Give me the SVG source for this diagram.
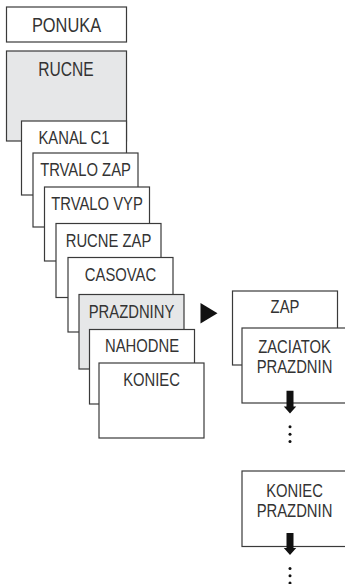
<svg xmlns="http://www.w3.org/2000/svg" width="345" height="584" viewBox="0 0 345 584">
<style>
.box{fill:#fff;stroke:#3a3a3a;stroke-width:1.2}
.gray{fill:#e6e7e8}
.t{font-family:"Liberation Sans",Arial,sans-serif;font-size:18.5px;fill:#333;text-anchor:middle}
.ar{fill:#111}
</style>
<rect width="345" height="584" fill="#fff"/>
<g id="ponuka"><rect class="box" x="6.5" y="7" width="120" height="35"/><text class="t" transform="translate(66.5,32.3) scale(0.8,1)" style="font-size:20.5px">PONUKA</text></g>
<g id="rucne"><rect class="box gray" x="6.5" y="51" width="120" height="90"/><text class="t" transform="translate(66,76) scale(0.8,1)" style="font-size:19.5px">RUCNE</text></g>
<g id="kanal"><rect class="box" x="21.5" y="121" width="105" height="74"/><text class="t" transform="translate(74,144) scale(0.8,1)">KANAL C1</text></g>
<g id="trvalozap"><rect class="box" x="33" y="153" width="105" height="74"/><text class="t" transform="translate(85.5,176) scale(0.8,1)">TRVALO ZAP</text></g>
<g id="trvalovyp"><rect class="box" x="44.5" y="187" width="105" height="74"/><text class="t" transform="translate(97,210) scale(0.8,1)">TRVALO VYP</text></g>
<g id="rucnezap"><rect class="box" x="56" y="223.5" width="105" height="74"/><text class="t" transform="translate(108.5,246.5) scale(0.8,1)">RUCNE ZAP</text></g>
<g id="casovac"><rect class="box" x="68" y="257.5" width="105" height="74.5"/><text class="t" transform="translate(120.5,280.5) scale(0.8,1)">CASOVAC</text></g>
<g id="prazdniny"><rect class="box gray" x="79" y="294.5" width="105" height="74.5"/><text class="t" transform="translate(131.5,317.5) scale(0.8,1)">PRAZDNINY</text></g>
<g id="nahodne"><rect class="box" x="89.5" y="329.5" width="105" height="74.5"/><text class="t" transform="translate(142,352) scale(0.8,1)">NAHODNE</text></g>
<g id="koniec"><rect class="box" x="99" y="363" width="105" height="75"/><text class="t" transform="translate(151.5,386) scale(0.8,1)">KONIEC</text></g>
<g id="zap"><rect class="box" x="232.5" y="291" width="105" height="74"/><text class="t" transform="translate(285,313.3) scale(0.8,1)">ZAP</text></g>
<g id="zaciatok"><rect class="box" x="242" y="328" width="105" height="75"/><text class="t" transform="translate(294.5,352.5) scale(0.8,1)">ZACIATOK</text><text class="t" transform="translate(294.5,372.5) scale(0.8,1)">PRAZDNIN</text></g>
<g id="koniecprazdnin"><rect class="box" x="242" y="471" width="105" height="75.5"/><text class="t" transform="translate(294.5,497) scale(0.8,1)">KONIEC</text><text class="t" transform="translate(294.5,517) scale(0.8,1)">PRAZDNIN</text></g>
<g id="connectors">
<polygon class="ar" points="200.5,303 217.5,313.3 200.5,323.5"/>
<polygon class="ar" points="286.5,390.7 293.5,390.7 293.5,406.5 296.2,406.5 290,413.5 283.8,406.5 286.5,406.5"/>
<polygon class="ar" points="286.5,533 293.5,533 293.5,548 296.2,548 290,555 283.8,548 286.5,548"/>
<g class="ar"><circle cx="290" cy="426.8" r="1.5"/><circle cx="290" cy="434.2" r="1.5"/><circle cx="290" cy="441.5" r="1.5"/><circle cx="290" cy="568.5" r="1.5"/><circle cx="290" cy="575.8" r="1.5"/><circle cx="290" cy="583" r="1.5"/></g>
</g>
</svg>
